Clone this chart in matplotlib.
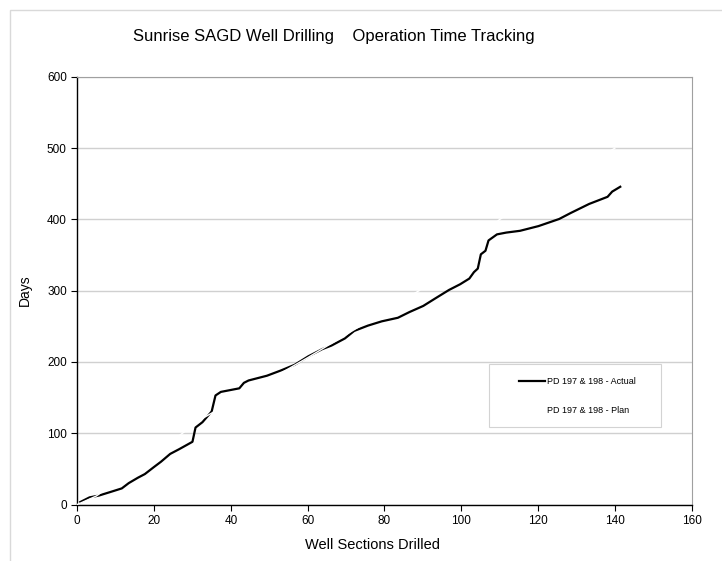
import matplotlib.pyplot as plt
from matplotlib.patches import Rectangle
from matplotlib.legend_handler import HandlerLine2D

# ── Data ──
actual_x = [0.8, 3.2, 5.6, 8.6, 11.6, 13.4, 15.8, 17.6, 20.0, 21.8, 24.2, 26.6, 30.0,
            30.8, 32.6, 35.0, 36.0, 37.4, 42.2, 43.4, 44.6, 49.4, 53.0, 56.6, 60.2,
            63.8, 66.2, 69.7, 72.1, 75.7, 79.3, 83.5, 86.5, 90.1, 93.1, 96.8, 99.7,
            102.1, 103.3, 104.3, 105.1, 106.3, 107.1, 109.3, 111.7, 115.3, 120.1,
            125.5, 128.5, 133.3, 138.1, 139.3, 141.4]
actual_y = [3.5, 10, 12.5, 17.5, 22.6, 30, 37.6, 42.7, 52.7, 60, 71, 77.8, 88,
            108, 115.5, 130.5, 153, 158, 163, 170.7, 174, 180.7, 188, 196, 208,
            218, 223, 233, 243.5, 251, 257, 262, 270, 278.6, 288.7, 301, 309,
            317, 326, 331, 351, 356, 370.5, 379, 381.5, 384, 390.6,
            400.6, 409, 421.7, 431.7, 439, 445.8]

plan_x = [0, 5, 33, 60, 89, 110, 140]
plan_y = [0, 12, 122, 206, 300, 400, 500]

x_ticks = [0, 20, 40, 60, 80, 100, 120, 140, 160]
y_ticks = [0, 100, 200, 300, 400, 500, 600]

plt.rcParams['font.family'] = ['Liberation Sans', 'DejaVu Sans']

fig = plt.figure(figsize=(7.22, 5.61), dpi=100)
ax = fig.add_axes([0.107, 0.1007, 0.851, 0.7623])

# outer chart border (top and left visible)
fig.patches.append(Rectangle((10 / 722, -0.1), 1.2, 1.1 - 10 / 561,
                             transform=fig.transFigure, fill=False,
                             edgecolor="#d9d9d9", linewidth=1.0))

l_act, = ax.plot(actual_x, actual_y, color="black", linewidth=1.6,
                 label="PD 197 & 198 - Actual", zorder=3)
l_plan, = ax.plot(plan_x, plan_y, color="white", linewidth=1.0,
                  label="PD 197 & 198 - Plan", zorder=4)

ax.set_xlim(0, 160)
ax.set_ylim(0, 600)
ax.set_xticks(x_ticks)
ax.set_yticks(y_ticks)
ax.tick_params(labelsize=8.5, direction="out", length=4, width=0.8)
ax.yaxis.grid(True, color="#d0d0d0", linewidth=1.0)
ax.set_axisbelow(True)

for s in ["top", "right"]:
    ax.spines[s].set_color("#a0a0a0")
for s in ["left", "bottom"]:
    ax.spines[s].set_color("black")
    ax.spines[s].set_linewidth(1.0)

fig.text(25 / 722, 1 - 290 / 561, "Days", rotation=90, ha="center", va="center", fontsize=10)
fig.text(373 / 722, 1 - 545 / 561, "Well Sections Drilled", ha="center", va="center", fontsize=10.5)
fig.text(334 / 722, 1 - 36 / 561, "Sunrise SAGD Well Drilling    Operation Time Tracking",
         ha="center", va="center", fontsize=12)

leg = ax.legend(loc="lower left", bbox_to_anchor=((489 - 77.3) / 614.7, (504.5 - 427.5) / 427.6,
                                                   (661.6 - 489) / 614.7, 59 / 427.6),
                mode="expand", fontsize=6.5, frameon=True, fancybox=False,
                borderpad=1.4, labelspacing=2.2, handlelength=4.8, handletextpad=0.2,
                borderaxespad=0,
                handler_map={l_act: HandlerLine2D(xpad=2.0), l_plan: HandlerLine2D(xpad=2.0)})
leg.get_frame().set_edgecolor("#c8c8c8")
leg.get_frame().set_linewidth(0.8)

fig.savefig("out.png", dpi=100)
